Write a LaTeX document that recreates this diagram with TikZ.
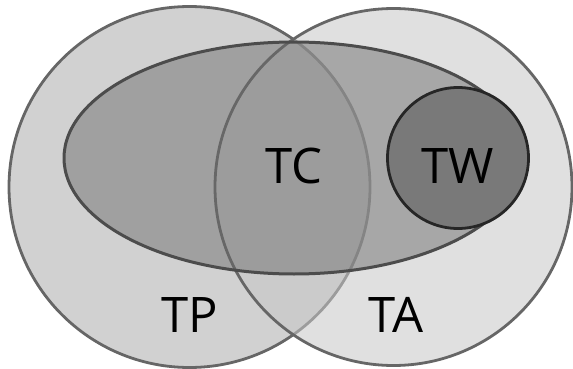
\documentclass[tikz,border=0pt]{standalone}
\usepackage{fontspec}
\setmainfont{Open Sans}
\usetikzlibrary{shapes.geometric}

\definecolor{tpfill}{gray}{0.82}
\definecolor{tafill}{gray}{0.785}
\definecolor{tcfill}{gray}{0.41}
\definecolor{twfill}{gray}{0.475}
\definecolor{setedge}{gray}{0.40}

\begin{document}
\begin{tikzpicture}[x=1pt, y=-1pt,
  setcircle/.style={circle, draw=setedge, line width=2.8pt, inner sep=0pt},
  setname/.style={font=\fontsize{49}{50}\selectfont, anchor=base, inner sep=0pt}]
  \useasboundingbox (0,0) rectangle (573,369);

  % Sets (drawn back to front)
  \node (tp) [setcircle, fill=tpfill, minimum size=361pt] at (189.5,187) {};
  \node (ta) [setcircle, fill=tafill, fill opacity=0.56, minimum size=357pt] at (393.5,187) {};
  \node (tc) [ellipse, draw=black!70, line width=3pt, fill=tcfill, fill opacity=0.47,
    minimum width=460pt, minimum height=232pt, inner sep=0pt] at (294,158) {};
  \node (tw) [setcircle, draw=black!85, fill=twfill, minimum size=141pt] at (458,158) {};

  % Names
  \node (tcname) [setname] at (294,183) {TC};
  \node (twname) [setname] at (458,183) {TW};
  \node (tpname) [setname] at (190,332) {TP};
  \node (taname) [setname] at (396,332) {TA};
\end{tikzpicture}
\end{document}
